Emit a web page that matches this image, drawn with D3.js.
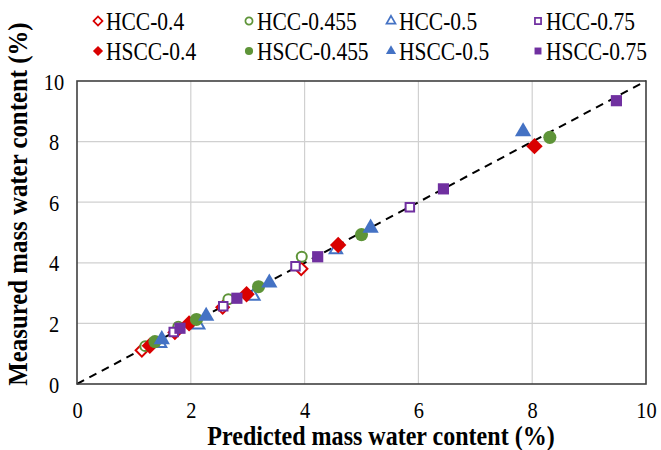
<!DOCTYPE html>
<html>
<head>
<meta charset="utf-8">
<script src="https://cdn.jsdelivr.net/npm/d3@7"></script>
<style>
  html, body { margin: 0; padding: 0; background: #fff; }
  svg { display: block; }
  svg text { font-family: "Liberation Serif", "Times New Roman", Times, "DejaVu Serif", serif !important; fill: #000; }
</style>
</head>
<body>
<svg id="chart" width="661" height="450"></svg>
<script>
// Series names (legend order: HCC row, then HSCC row)
const seriesNames = ["HCC-0.4", "HCC-0.455", "HCC-0.5", "HCC-0.75",
                     "HSCC-0.4", "HSCC-0.455", "HSCC-0.5", "HSCC-0.75"];

// Predicted (x) and measured (y) mass water content, %
const hcc04Pred   = [1.14, 1.72, 2.56, 3.94];
const hcc04Meas   = [1.11, 1.70, 2.53, 3.80];
const hcc0455Pred = [1.20, 1.78, 2.66, 3.95];
const hcc0455Meas = [1.25, 1.89, 2.80, 4.20];
const hcc05Pred   = [1.46, 2.13, 3.10, 4.55];
const hcc05Meas   = [1.34, 1.95, 2.90, 4.43];
const hcc075Pred  = [1.70, 2.57, 3.84, 5.85];
const hcc075Meas  = [1.72, 2.57, 3.89, 5.83];

const hscc04Pred   = [1.28, 1.97, 2.98, 4.59, 8.04];
const hscc04Meas   = [1.26, 2.00, 2.96, 4.59, 7.85];
const hscc0455Pred = [1.37, 2.10, 3.19, 5.00, 8.31];
const hscc0455Meas = [1.40, 2.13, 3.21, 4.93, 8.14];
const hscc05Pred   = [1.49, 2.27, 3.38, 5.16, 7.84];
const hscc05Meas   = [1.47, 2.24, 3.34, 5.15, 8.33];
const hscc075Pred  = [1.81, 2.81, 4.23, 6.44, 9.48];
const hscc075Meas  = [1.84, 2.83, 4.20, 6.44, 9.35];

const xTicks = [0, 2, 4, 6, 8, 10];
const yTicks = [0, 2, 4, 6, 8, 10];

const RED = "#D90000", GREEN = "#5E9438", BLUE = "#4472C4", PURPLE = "#7030A0";

const series = [
  { name: seriesNames[0], x: hcc04Pred,    y: hcc04Meas,    shape: "diamond",  color: RED,    filled: false },
  { name: seriesNames[1], x: hcc0455Pred,  y: hcc0455Meas,  shape: "circle",   color: GREEN,  filled: false },
  { name: seriesNames[2], x: hcc05Pred,    y: hcc05Meas,    shape: "triangle", color: BLUE,   filled: false },
  { name: seriesNames[3], x: hcc075Pred,   y: hcc075Meas,   shape: "square",   color: PURPLE, filled: false },
  { name: seriesNames[4], x: hscc04Pred,   y: hscc04Meas,   shape: "diamond",  color: RED,    filled: true },
  { name: seriesNames[5], x: hscc0455Pred, y: hscc0455Meas, shape: "circle",   color: GREEN,  filled: true },
  { name: seriesNames[6], x: hscc05Pred,   y: hscc05Meas,   shape: "triangle", color: BLUE,   filled: true },
  { name: seriesNames[7], x: hscc075Pred,  y: hscc075Meas,  shape: "square",   color: PURPLE, filled: true }
];

const FONT = '"Liberation Serif", "Times New Roman", Times, "DejaVu Serif", serif';

const svg = d3.select("#chart");
const plot = { left: 77, right: 646, top: 81, bottom: 384 };

const x = d3.scaleLinear().domain([0, 10]).range([plot.left, plot.right]);
const y = d3.scaleLinear().domain([0, 10]).range([plot.bottom, plot.top]);

// Marker path generator; open markers are a little smaller than filled ones
function markerPath(shape, filled) {
  const s = filled ? 1 : 0.76;
  if (shape === "diamond")  return d3.symbol(d3.symbolSquare, 135 * s * s)();
  if (shape === "circle")   return d3.symbol(d3.symbolCircle, 135 * s * s)();
  if (shape === "triangle") return d3.symbol(d3.symbolTriangle, 115 * s * s)();
  return d3.symbol(d3.symbolSquare, 125 * s * s)();
}
function markerRotate(shape) { return shape === "diamond" ? " rotate(45)" : ""; }

// Gridlines
const grid = svg.append("g");
grid.selectAll("line.gx").data(xTicks.slice(1, -1)).join("line")
  .attr("x1", d => x(d)).attr("x2", d => x(d))
  .attr("y1", plot.top).attr("y2", plot.bottom)
  .attr("stroke", "#d0d0d0").attr("stroke-width", 1.2);
grid.selectAll("line.gy").data(yTicks.slice(1, -1)).join("line")
  .attr("x1", plot.left).attr("x2", plot.right)
  .attr("y1", d => y(d)).attr("y2", d => y(d))
  .attr("stroke", "#d0d0d0").attr("stroke-width", 1.2);

// 1:1 reference line
svg.append("line")
  .attr("x1", x(0)).attr("y1", y(0)).attr("x2", x(10)).attr("y2", y(10))
  .attr("stroke", "#000").attr("stroke-width", 2)
  .attr("stroke-dasharray", "8,6");

// Points
series.forEach(s => {
  const pts = s.x.map((v, i) => [v, s.y[i]]);
  svg.append("g").selectAll("path").data(pts).join("path")
    .attr("d", markerPath(s.shape, s.filled))
    .attr("transform", d => `translate(${x(d[0])},${y(d[1])})` + markerRotate(s.shape))
    .attr("fill", s.filled ? s.color : "#fff")
    .attr("stroke", s.color)
    .attr("stroke-width", s.filled ? 0 : 2);
});

// Plot frame
svg.append("rect")
  .attr("x", plot.left).attr("y", plot.top)
  .attr("width", plot.right - plot.left).attr("height", plot.bottom - plot.top)
  .attr("fill", "none").attr("stroke", "#404040").attr("stroke-width", 1.6);

// Axes (tick labels only; frame drawn above)
const xAxis = svg.append("g")
  .attr("transform", `translate(0,${plot.bottom})`)
  .call(d3.axisBottom(x).tickValues(xTicks).tickSize(0).tickPadding(0));
xAxis.attr("font-family", FONT);
xAxis.select(".domain").remove();
xAxis.selectAll("text")
  .attr("y", 0).attr("dy", 0)
  .attr("transform", "translate(0,34) scale(0.85,1)")
  .style("font-size", "24px");

const yAxis = svg.append("g")
  .attr("transform", `translate(${plot.left},0)`)
  .call(d3.axisLeft(y).tickValues(yTicks).tickSize(0).tickPadding(0));
yAxis.attr("font-family", FONT);
yAxis.select(".domain").remove();
yAxis.selectAll("text")
  .attr("x", 0).attr("dy", 0).attr("text-anchor", "middle")
  .attr("transform", "translate(-23,8) scale(0.85,1)")
  .style("font-size", "24px");

// Axis titles
svg.append("text")
  .attr("transform", `translate(381,445) scale(0.89,1)`)
  .attr("text-anchor", "middle")
  .style("font-size", "27px").style("font-weight", "bold")
  .text("Predicted mass water content (%)");

svg.append("text")
  .attr("transform", "translate(27,204) rotate(-90) scale(0.92,1)")
  .attr("text-anchor", "middle")
  .style("font-size", "27px").style("font-weight", "bold")
  .text("Measured mass water content (%)");

// Legend: two rows of four
const legendCols = [98, 249, 391, 538];
const legendRows = [21, 51];
series.forEach((s, i) => {
  const cx = legendCols[i % 4], cy = legendRows[Math.floor(i / 4)];
  svg.append("path")
    .attr("d", markerPath(s.shape, s.filled))
    .attr("transform", `translate(${cx},${cy})` + markerRotate(s.shape) + (s.filled ? " scale(0.62)" : " scale(0.72)"))
    .attr("fill", s.filled ? s.color : "#fff")
    .attr("stroke", s.color)
    .attr("stroke-width", s.filled ? 0 : 2.4);
  svg.append("text")
    .attr("transform", `translate(${cx + 8},${cy + 9}) scale(0.86,1)`)
    .style("font-size", "25px")
    .text(s.name);
});
</script>
</body>
</html>
